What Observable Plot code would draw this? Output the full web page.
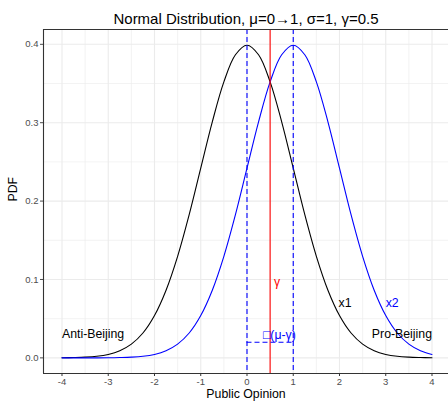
<!DOCTYPE html>
<html><head><meta charset="utf-8">
<script src="https://cdn.jsdelivr.net/npm/d3@7"></script>
<script src="https://cdn.jsdelivr.net/npm/@observablehq/plot@0.6"></script>
<style>body{margin:0;background:#fff;font-family:"Liberation Sans",Arial,sans-serif}</style>
</head><body><div id="chart"></div>
<script>
const xs = [-4,-3.75,-3.5,-3.25,-3,-2.75,-2.5,-2.25,-2,-1.75,-1.5,-1.25,-1,-0.75,-0.5,-0.25,0,0.25,0.5,0.75,1,1.25,1.5,1.75,2,2.25,2.5,2.75,3,3.25,3.5,3.75,4];
const pdfX1 = [0.0001,0.0004,0.0009,0.0020,0.0044,0.0091,0.0175,0.0317,0.0540,0.0863,0.1295,0.1826,0.2420,0.3011,0.3521,0.3867,0.3989,0.3867,0.3521,0.3011,0.2420,0.1826,0.1295,0.0863,0.0540,0.0317,0.0175,0.0091,0.0044,0.0020,0.0009,0.0004,0.0001];
const pdfX2 = [0.0000,0.0000,0.0000,0.0000,0.0001,0.0004,0.0009,0.0020,0.0044,0.0091,0.0175,0.0317,0.0540,0.0863,0.1295,0.1826,0.2420,0.3011,0.3521,0.3867,0.3989,0.3867,0.3521,0.3011,0.2420,0.1826,0.1295,0.0863,0.0540,0.0317,0.0175,0.0091,0.0044];
const means = [0, 1];
const gamma = [0.5];
const xTicks = [-4,-3,-2,-1,0,1,2,3,4];
const xMinor = [-3.5,-2.5,-1.5,-0.5,0.5,1.5,2.5,3.5];
const yTicks = [0,0.1,0.2,0.3,0.4];
const yMinor = [0.05,0.15,0.25,0.35];
const labels = [
  {x:-4, y:0.03, text:"Anti-Beijing", color:"black", anchor:"start"},
  {x:4, y:0.03, text:"Pro-Beijing", color:"black", anchor:"end"},
  {x:2.12, y:0.07, text:"x1", color:"black", anchor:"middle"},
  {x:3.14, y:0.07, text:"x2", color:"blue", anchor:"middle"},
  {x:0.65, y:0.097, text:"γ", color:"red", anchor:"middle"},
  {x:0.7, y:0.029, text:"□(μ-γ)", color:"blue", anchor:"middle"}
];
const gapSeg = [{x1:0, x2:1, y:0.02}];
const title = "Normal Distribution, μ=0→1, σ=1, γ=0.5";

const d1 = xs.map((x,i)=>({x, y:pdfX1[i]}));
const d2 = xs.map((x,i)=>({x, y:pdfX2[i]}));
const xDom = [-4.4, 4.357], yDom = [-0.01995, 0.4189];

const chart = Plot.plot({
  width: 448, height: 403,
  marginLeft: 43, marginRight: 0, marginTop: 29, marginBottom: 30,
  style: {fontFamily: '"Liberation Sans", Arial, sans-serif', background: "#fff"},
  x: {domain: xDom, axis: null},
  y: {domain: yDom, axis: null},
  marks: [
    Plot.ruleX(xMinor, {stroke: "#ebebeb", strokeWidth: 0.6}),
    Plot.ruleY(yMinor, {stroke: "#ebebeb", strokeWidth: 0.6}),
    Plot.ruleX(xTicks, {stroke: "#ebebeb", strokeWidth: 1.1}),
    Plot.ruleY(yTicks, {stroke: "#ebebeb", strokeWidth: 1.1}),
    Plot.axisX({ticks: xTicks, tickSize: 3, tickFormat: d => String(d), fontSize: 9.5, color: "#4d4d4d", stroke: "#333", label: null, tickPadding: 2}),
    Plot.axisY({ticks: yTicks, tickSize: 3, tickFormat: d => d.toFixed(1), fontSize: 9.5, color: "#4d4d4d", label: null, tickPadding: 2}),
    Plot.line(d1, {x: "x", y: "y", stroke: "black", strokeWidth: 1.1, curve: "catmull-rom"}),
    Plot.line(d2, {x: "x", y: "y", stroke: "blue", strokeWidth: 1.1, curve: "catmull-rom"}),
    Plot.ruleX(means, {stroke: "blue", strokeWidth: 1.1, strokeDasharray: "5,3"}),
    Plot.ruleX(gamma, {stroke: "red", strokeWidth: 1.1}),
    Plot.ruleY(gapSeg, {x1: "x1", x2: "x2", y: "y", stroke: "blue", strokeWidth: 1.1, strokeDasharray: "5,3"}),
    Plot.text(labels.filter(d=>d.anchor==="start"), {x:"x", y:"y", text:"text", fill:"color", textAnchor:"start", fontSize: 12.3}),
    Plot.text(labels.filter(d=>d.anchor==="end"), {x:"x", y:"y", text:"text", fill:"color", textAnchor:"end", fontSize: 12.3}),
    Plot.text(labels.filter(d=>d.anchor==="middle"), {x:"x", y:"y", text:"text", fill:"color", textAnchor:"middle", fontSize: 12.3}),
    Plot.ruleX([xDom[0]], {stroke: "#333", strokeWidth: 1.1}),
    Plot.ruleY([yDom[0], yDom[1]], {stroke: "#333", strokeWidth: 1.1}),
    Plot.text([title], {frameAnchor: "top", dy: -16, fontSize: 15, fill: "black"}),
    Plot.text(["Public Opinion"], {frameAnchor: "bottom", dy: 24, fontSize: 12.3, fill: "black"}),
    Plot.text(["PDF"], {frameAnchor: "left", dx: -30, rotate: -90, fontSize: 12.3, fill: "black"})
  ]
});
document.getElementById("chart").appendChild(chart);
</script></body></html>
